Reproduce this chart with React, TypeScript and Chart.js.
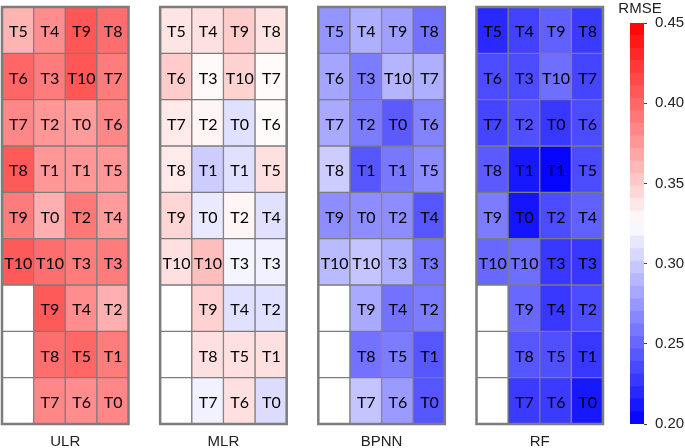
import React, { useEffect, useRef } from 'react';
import { Chart, registerables } from 'chart.js';

Chart.register(...registerables);

const panels = ['ULR', 'MLR', 'BPNN', 'RF'];

const cellLabels = [
  ['T5', 'T4', 'T9', 'T8'],
  ['T6', 'T3', 'T10', 'T7'],
  ['T7', 'T2', 'T0', 'T6'],
  ['T8', 'T1', 'T1', 'T5'],
  ['T9', 'T0', 'T2', 'T4'],
  ['T10', 'T10', 'T3', 'T3'],
  ['', 'T9', 'T4', 'T2'],
  ['', 'T8', 'T5', 'T1'],
  ['', 'T7', 'T6', 'T0'],
];

const ulrValues = [
  [0.362, 0.381, 0.408, 0.396],
  [0.400, 0.389, 0.408, 0.389],
  [0.384, 0.376, 0.374, 0.384],
  [0.406, 0.376, 0.376, 0.376],
  [0.389, 0.364, 0.391, 0.374],
  [0.406, 0.396, 0.389, 0.389],
  [null, 0.406, 0.381, 0.364],
  [null, 0.396, 0.400, 0.389],
  [null, 0.384, 0.381, 0.384],
];

const mlrValues = [
  [0.338, 0.340, 0.350, 0.338],
  [0.350, 0.328, 0.347, 0.327],
  [0.336, 0.330, 0.310, 0.327],
  [0.336, 0.300, 0.310, 0.340],
  [0.345, 0.314, 0.330, 0.310],
  [0.340, 0.357, 0.320, 0.318],
  [null, 0.347, 0.310, 0.310],
  [null, 0.340, 0.340, 0.340],
  [null, 0.318, 0.340, 0.308],
];

const bpnnValues = [
  [0.273, 0.286, 0.278, 0.256],
  [0.281, 0.261, 0.288, 0.286],
  [0.283, 0.261, 0.244, 0.264],
  [0.300, 0.242, 0.259, 0.269],
  [0.269, 0.269, 0.269, 0.242],
  [0.291, 0.296, 0.286, 0.259],
  [null, 0.283, 0.256, 0.261],
  [null, 0.256, 0.261, 0.242],
  [null, 0.296, 0.276, 0.242],
];

const rfValues = [
  [0.220, 0.232, 0.247, 0.229],
  [0.237, 0.237, 0.254, 0.234],
  [0.234, 0.239, 0.227, 0.237],
  [0.244, 0.212, 0.202, 0.237],
  [0.261, 0.210, 0.237, 0.247],
  [0.251, 0.254, 0.227, 0.227],
  [null, 0.251, 0.227, 0.237],
  [null, 0.242, 0.239, 0.227],
  [null, 0.229, 0.229, 0.212],
];

const colorbarTicks = [0.2, 0.25, 0.3, 0.35, 0.4, 0.45];
const RMSE_MIN = 0.2;
const RMSE_MAX = 0.45;
const COLOR_STEPS = 32;

const panelValues = [ulrValues, mlrValues, bpnnValues, rfValues];
const ROWS = cellLabels.length;
const COLS = 4;
const PANEL_STRIDE = 5; // 4 columns + 1 gap column
const NUM_CATS = PANEL_STRIDE * panels.length - 1;
const panelCenters = panels.map((_, p) => p * PANEL_STRIDE + 1.5);

const SANS = "'Liberation Sans', Arial, sans-serif";
const CELL_FONT = "16px Lato, 'Open Sans', sans-serif";
const GRID_GRAY = '#7d7d7d';

function rmseColor(v: number | null): string {
  if (v === null) return '#ffffff';
  let t = (v - RMSE_MIN) / (RMSE_MAX - RMSE_MIN);
  t = Math.max(0, Math.min(1, t));
  if (t < 0.5) {
    const k = Math.round(255 * (t / 0.5));
    return `rgb(${k},${k},255)`;
  }
  const k = Math.round(255 * ((1 - t) / 0.5));
  return `rgb(255,${k},${k})`;
}

function colFor(index: number): { p: number; c: number } | null {
  const p = Math.floor(index / PANEL_STRIDE);
  const c = index % PANEL_STRIDE;
  if (c >= COLS) return null;
  return { p, c };
}

const categories = Array.from({ length: NUM_CATS }, (_, i) => {
  const pc = colFor(i);
  return pc ? `${panels[pc.p]}-${pc.c}` : `gap-${i}`;
});

const cellTextPlugin = {
  id: 'cellText',
  afterDatasetsDraw(chart: any) {
    const ctx = chart.ctx;
    ctx.save();
    ctx.font = CELL_FONT;
    ctx.fillStyle = '#000';
    ctx.textAlign = 'center';
    ctx.textBaseline = 'middle';
    for (let r = 0; r < ROWS; r++) {
      const meta = chart.getDatasetMeta(r);
      meta.data.forEach((el: any, i: number) => {
        const pc = colFor(i);
        if (!pc) return;
        const text = cellLabels[r][pc.c];
        if (!text) return;
        ctx.fillText(text, el.x + 0.5, (el.y + el.base) / 2 + 2);
      });
    }
    // panel outlines
    const xs = chart.scales.x;
    const ys = chart.scales.y;
    const w = xs.width / NUM_CATS;
    ctx.strokeStyle = GRID_GRAY;
    ctx.lineWidth = 2.5;
    panels.forEach((_, p) => {
      const left = xs.getPixelForValue(p * PANEL_STRIDE) - w / 2;
      const right = xs.getPixelForValue(p * PANEL_STRIDE + COLS - 1) + w / 2;
      const top = ys.getPixelForValue(0);
      const bottom = ys.getPixelForValue(ROWS);
      ctx.strokeRect(left, top, right - left, bottom - top);
    });
    ctx.restore();
  },
};

const colorbarTitlePlugin = {
  id: 'cbTitle',
  afterDraw(chart: any) {
    const ctx = chart.ctx;
    const a = chart.chartArea;
    ctx.save();
    ctx.font = `15px ${SANS}`;
    ctx.fillStyle = '#222';
    ctx.textAlign = 'center';
    ctx.textBaseline = 'middle';
    ctx.fillText('RMSE', (a.left + a.right) / 2 + 3, 9);
    ctx.restore();
  },
};

export default function App() {
  const mainRef = useRef<HTMLCanvasElement | null>(null);
  const barRef = useRef<HTMLCanvasElement | null>(null);

  useEffect(() => {
    if (!mainRef.current || !barRef.current) return;

    const datasets = cellLabels.map((_, r) => ({
      label: `row${r}`,
      xAxisID: 'x',
      yAxisID: 'y',
      data: categories.map((_, i) => (colFor(i) ? [r, r + 1] : null)),
      backgroundColor: categories.map((_, i) => {
        const pc = colFor(i);
        return pc ? rmseColor(panelValues[pc.p][r][pc.c]) : 'rgba(0,0,0,0)';
      }),
      borderColor: GRID_GRAY,
      borderWidth: 1,
      borderSkipped: false,
      grouped: false,
      barPercentage: 1,
      categoryPercentage: 1,
    }));

    const main = new Chart(mainRef.current, {
      type: 'bar',
      data: { labels: categories, datasets: datasets as any },
      options: {
        animation: false,
        responsive: false,
        layout: { padding: { left: 2, right: 12, top: 7, bottom: 0 } },
        plugins: { legend: { display: false }, tooltip: { enabled: false } },
        scales: {
          x: { type: 'category', display: false, offset: true },
          y: { type: 'linear', min: 0, max: ROWS, reverse: true, display: false },
          x2: {
            type: 'linear',
            position: 'bottom',
            offset: false,
            min: -0.5,
            max: NUM_CATS - 0.5,
            grid: { display: false, drawTicks: false, offset: false },
            border: { display: false },
            afterBuildTicks: (axis: any) => {
              axis.ticks = panelCenters.map((v) => ({ value: v }));
            },
            afterFit: (axis: any) => {
              axis.height = 24;
            },
            ticks: {
              autoSkip: false,
              maxRotation: 0,
              padding: 10,
              color: '#222',
              font: { family: SANS, size: 15, lineHeight: 1 },
              callback: (v: any) => {
                const idx = panelCenters.indexOf(Number(v));
                return idx >= 0 ? panels[idx] : '';
              },
            },
          },
        },
      } as any,
      plugins: [cellTextPlugin],
    });

    const step = (RMSE_MAX - RMSE_MIN) / COLOR_STEPS;
    const bandDatasets = Array.from({ length: COLOR_STEPS }, (_, k) => {
      const lo = RMSE_MIN + k * step;
      const hi = lo + step;
      return {
        label: `band${k}`,
        data: [[lo, hi]],
        backgroundColor: rmseColor((lo + hi) / 2),
        borderWidth: 0,
        grouped: false,
        barPercentage: 1,
        categoryPercentage: 1,
      };
    });

    const bar = new Chart(barRef.current, {
      type: 'bar',
      data: { labels: [''], datasets: bandDatasets as any },
      options: {
        animation: false,
        responsive: false,
        layout: { padding: { left: 30, right: 1, top: 23, bottom: 24 } },
        plugins: { legend: { display: false }, tooltip: { enabled: false } },
        scales: {
          x: { type: 'category', display: false },
          y: {
            type: 'linear',
            position: 'right',
            min: RMSE_MIN,
            max: RMSE_MAX,
            afterBuildTicks: (axis: any) => {
              axis.ticks = colorbarTicks.map((v) => ({ value: v }));
            },
            afterFit: (axis: any) => {
              axis.width = 40;
            },
            grid: {
              display: true,
              drawOnChartArea: false,
              drawTicks: true,
              tickLength: 3,
              color: '#444',
            },
            border: { display: false },
            ticks: {
              padding: 8,
              color: '#222',
              font: { family: SANS, size: 15 },
              callback: (v: any) => Number(v).toFixed(2),
            },
          },
        },
      } as any,
      plugins: [colorbarTitlePlugin],
    });

    return () => {
      main.destroy();
      bar.destroy();
    };
  }, []);

  return (
    <div style={{ position: 'absolute', left: 0, top: 0, width: 685, height: 448, background: '#fff' }}>
      <canvas
        ref={mainRef}
        width={615}
        height={448}
        style={{ position: 'absolute', left: 0, top: 0, width: 615, height: 448 }}
      />
      <canvas
        ref={barRef}
        width={85}
        height={448}
        style={{ position: 'absolute', left: 600, top: 0, width: 85, height: 448 }}
      />
    </div>
  );
}
